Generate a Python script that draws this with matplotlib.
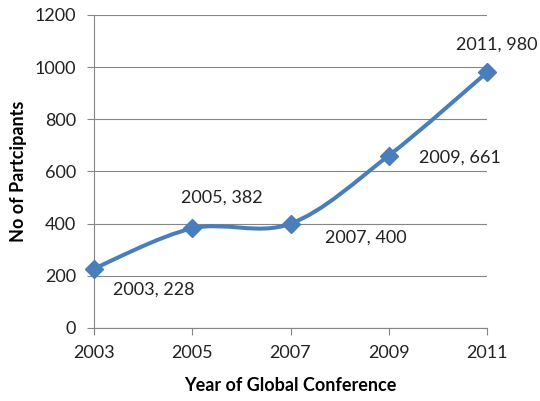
import numpy as np
import matplotlib.pyplot as plt
from matplotlib.path import Path
from matplotlib.patches import PathPatch

years = [2003, 2005, 2007, 2009, 2011]
participants = [228, 382, 400, 661, 980]
# label offsets in points (dx, dy) and alignment
label_offsets = [(14, -15), (21.5, 22), (25, -10), (22, -1.5), (7, 20)]
label_ha = ["left", "center", "left", "left", "center"]

plt.rcParams['font.family'] = ['Lato', 'DejaVu Sans']
line_color = "#4A7EBB"
grid_color = "#868686"
fs = 13

fig = plt.figure(figsize=(5.4, 4.01), dpi=100)
ax = fig.add_axes([94/540, 1 - 328/401, (487-94)/540, (328-15)/401])


def smooth_path(xs, ys):
    # Excel-style smoothed line: cubic Bezier segments through the points
    pts = np.column_stack([xs, ys]).astype(float)
    n = len(pts)
    verts = [pts[0]]
    codes = [Path.MOVETO]
    for i in range(n - 1):
        p0 = pts[max(i - 1, 0)]
        p1 = pts[i]
        p2 = pts[i + 1]
        p3 = pts[min(i + 2, n - 1)]
        c1 = p1 + (p2 - p0) / 6
        c2 = p2 - (p3 - p1) / 6
        verts += [c1, c2, p2]
        codes += [Path.CURVE4] * 3
    return Path(verts, codes)


ax.add_patch(PathPatch(smooth_path(years, participants), facecolor="none",
                       edgecolor=line_color, lw=2.9, zorder=3, capstyle="round"))
ax.plot(years, participants, linestyle="none", marker="D", markersize=9,
        color=line_color, zorder=4, clip_on=False)

for x, y, (dx, dy), ha in zip(years, participants, label_offsets, label_ha):
    ax.annotate(f"{x}, {y}", (x, y), xytext=(dx, dy), textcoords="offset points",
                ha=ha, va="center", fontsize=fs, color="#222222")

ax.set_xlim(2003, 2011)
ax.set_ylim(0, 1200)
ax.set_xticks(years)
ax.set_yticks(range(0, 1201, 200))
ax.yaxis.grid(True, color=grid_color, lw=0.8)
ax.set_axisbelow(True)
for s in ["top", "right"]:
    ax.spines[s].set_visible(False)
for s in ["left", "bottom"]:
    ax.spines[s].set_color(grid_color)
ax.tick_params(axis="both", colors=grid_color, labelcolor="#222222",
               labelsize=fs, length=5, direction="out")
ax.tick_params(axis="y", pad=8)
ax.tick_params(axis="x", pad=7)

ax.set_xlabel("Year of Global Conference", fontsize=fs, fontweight="bold", labelpad=12)
ax.set_ylabel("No of Partcipants", fontsize=fs, fontweight="bold", labelpad=5)

fig.savefig("out.png", dpi=100)
